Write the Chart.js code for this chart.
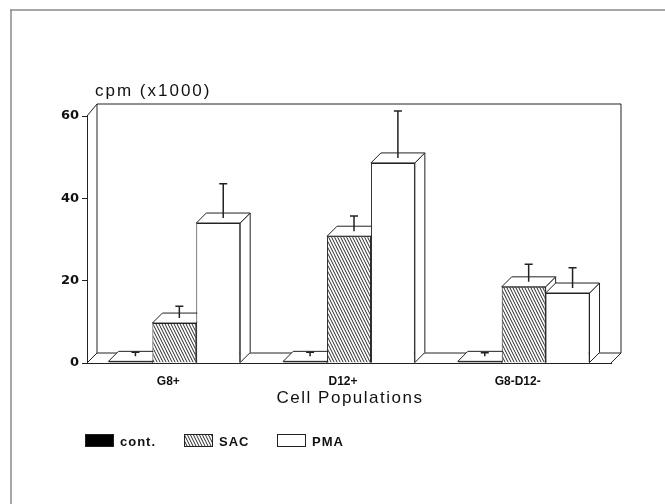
<!DOCTYPE html>
<html>
<head>
<meta charset="utf-8">
<script src="https://cdn.jsdelivr.net/npm/chart.js@4"></script>
<style>
  html, body { margin: 0; padding: 0; background: #fff; }
  #wrap { width: 665px; height: 504px; }
</style>
</head>
<body>
<div id="wrap"><canvas id="chartCanvas" width="665" height="504"></canvas></div>
<script>
// --- data (cpm x1000) ---
const populations = ["G8+", "D12+", "G8-D12-"];
const contValues = [0.4, 0.4, 0.4];
const sacValues = [9.7, 30.8, 18.5];
const pmaValues = [34.0, 48.6, 17.0];
// upper error (added on top of the bar)
const contErrors = [1.0, 1.0, 0.9];
const sacErrors = [2.9, 3.7, 4.3];
const pmaErrors = [8.3, 11.4, 4.9];
const yTicks = [0, 20, 40, 60];

const INK = "#222";
const DEPTH = 10; // 3D offset of the box, px

// hatch for SAC bars (steep backslash lines)
function makeHatch() {
  const c = document.createElement("canvas");
  c.width = 3; c.height = 6;
  const g = c.getContext("2d");
  g.fillStyle = "#fff";
  g.fillRect(0, 0, 3, 6);
  g.strokeStyle = "#2a2a2a";
  g.lineWidth = 1;
  g.beginPath();
  for (let k = -1; k <= 1; k++) {
    g.moveTo(k * 3, 0);
    g.lineTo(k * 3 + 3, 6);
  }
  g.stroke();
  return g.createPattern(c, "repeat");
}
const hatch = makeHatch();

function poly(ctx, pts, fill) {
  ctx.beginPath();
  ctx.moveTo(pts[0][0], pts[0][1]);
  for (let i = 1; i < pts.length; i++) ctx.lineTo(pts[i][0], pts[i][1]);
  ctx.closePath();
  if (fill) { ctx.fillStyle = fill; ctx.fill(); }
  ctx.stroke();
}

// --- 3D box, error bars, title and legend ---
const boxPlugin = {
  id: "box3d",
  beforeDraw(chart) {
    const ctx = chart.ctx;
    ctx.save();
    ctx.fillStyle = "#fff";
    ctx.fillRect(0, 0, chart.width, chart.height);
    // scan frame
    ctx.strokeStyle = "#8a8a8a";
    ctx.lineWidth = 1.5;
    ctx.beginPath();
    ctx.moveTo(10, 10); ctx.lineTo(chart.width, 10);
    ctx.moveTo(11, 10); ctx.lineTo(11, chart.height);
    ctx.stroke();
    ctx.restore();
  },
  beforeDatasetsDraw(chart) {
    const ctx = chart.ctx;
    const a = chart.chartArea;
    const d = DEPTH;
    ctx.save();
    ctx.strokeStyle = INK;
    ctx.lineWidth = 1;
    // back wall + floor
    ctx.beginPath();
    ctx.moveTo(a.left, a.top); ctx.lineTo(a.left + d, a.top - d - 2);
    ctx.lineTo(a.right + d, a.top - d - 2);
    ctx.lineTo(a.right + d, a.bottom - d);
    ctx.lineTo(a.left + d, a.bottom - d);
    ctx.lineTo(a.left + d, a.top - d - 2);
    ctx.moveTo(a.left, a.bottom); ctx.lineTo(a.left + d, a.bottom - d);
    ctx.moveTo(a.right, a.bottom); ctx.lineTo(a.right + d, a.bottom - d);
    ctx.stroke();

    // side + top faces, left to right
    const bars = [];
    chart.data.datasets.forEach((ds, i) => {
      chart.getDatasetMeta(i).data.forEach(el => bars.push(el));
    });
    bars.sort((p, q) => p.x - q.x);
    bars.forEach(el => {
      const l = el.x - el.width / 2, r = el.x + el.width / 2;
      const t = el.y, b = el.base;
      poly(ctx, [[r, t], [r + d, t - d], [r + d, b - d], [r, b]], "#fff");
      poly(ctx, [[l, t], [l + d, t - d], [r + d, t - d], [r, t]], "#fff");
    });
    ctx.restore();
  },
  afterDatasetsDraw(chart) {
    const ctx = chart.ctx;
    const yScale = chart.scales.y;
    const errs = [contErrors, sacErrors, pmaErrors];
    const h = DEPTH / 2;
    ctx.save();
    ctx.strokeStyle = INK;
    ctx.lineWidth = 1.5;
    chart.data.datasets.forEach((ds, i) => {
      chart.getDatasetMeta(i).data.forEach((el, j) => {
        const x = el.x + h;
        const y0 = el.y - h;
        const y1 = yScale.getPixelForValue(ds.data[j] + errs[i][j]) - h;
        ctx.beginPath();
        ctx.moveTo(x, y0); ctx.lineTo(x, y1);
        ctx.moveTo(x - 4, y1); ctx.lineTo(x + 4, y1);
        ctx.stroke();
      });
    });
    ctx.restore();
  },
  afterDraw(chart) {
    const ctx = chart.ctx;
    const a = chart.chartArea;
    ctx.save();
    ctx.fillStyle = "#111";
    ctx.textBaseline = "middle";
    ctx.textAlign = "left";
    ctx.font = "17px 'Liberation Sans', Arial, sans-serif";
    ctx.letterSpacing = "2px";
    ctx.fillText("cpm (x1000)", a.left + 8, 91);

    // axis title
    ctx.textAlign = "center";
    ctx.letterSpacing = "1.5px";
    ctx.fillText("Cell Populations", (a.left + a.right) / 2 + 1, 398);

    // legend
    ctx.textAlign = "left";
    ctx.font = "bold 13px 'Liberation Sans', Arial, sans-serif";
    ctx.letterSpacing = "1px";
    ctx.strokeStyle = INK;
    ctx.lineWidth = 1;
    const items = [
      { label: "cont.", fill: "#000", x: 85 },
      { label: "SAC", fill: hatch, x: 184 },
      { label: "PMA", fill: "#fff", x: 277 }
    ];
    items.forEach(it => {
      ctx.fillStyle = it.fill;
      ctx.fillRect(it.x, 434, 29, 13);
      ctx.strokeRect(it.x + 0.5, 434.5, 28, 12);
      ctx.fillStyle = "#111";
      ctx.fillText(it.label, it.x + 35, 442);
    });
    ctx.restore();
  }
};

const canvas = document.getElementById("chartCanvas");
new Chart(canvas, {
  type: "bar",
  data: {
    labels: populations,
    datasets: [
      { label: "cont.", data: contValues, backgroundColor: "#000" },
      { label: "SAC", data: sacValues, backgroundColor: hatch },
      { label: "PMA", data: pmaValues, backgroundColor: "#fff" }
    ].map(ds => Object.assign(ds, {
      borderColor: INK,
      borderWidth: 1,
      categoryPercentage: 0.754,
      barPercentage: 1
    }))
  },
  options: {
    responsive: false,
    animation: false,
    events: [],
    layout: { padding: { left: 10, right: 54, top: 116, bottom: 96 } },
    plugins: {
      legend: { display: false },
      tooltip: { enabled: false },
      title: { display: false }
    },
    scales: {
      x: {
        grid: { display: false, drawTicks: false },
        border: { display: true, color: INK, width: 1 },
        ticks: {
          padding: 11,
          labelOffset: -6,
          color: "#111",
          font: { family: "'Liberation Sans', Arial, sans-serif", size: 12, weight: "bold" }
        },
        afterFit(scale) { scale.height = 45; }
      },
      y: {
        min: 0,
        max: 60,
        afterBuildTicks(scale) { scale.ticks = yTicks.map(v => ({ value: v })); },
        grid: { drawOnChartArea: false, tickLength: 5, color: INK },
        border: { display: true, color: INK, width: 1 },
        ticks: {
          padding: 3,
          color: "#111",
          font: { family: "'DejaVu Sans', sans-serif", size: 13, weight: "bold" }
        },
        afterFit(scale) { scale.width = 77; }
      }
    }
  },
  plugins: [boxPlugin]
});
</script>
</body>
</html>
